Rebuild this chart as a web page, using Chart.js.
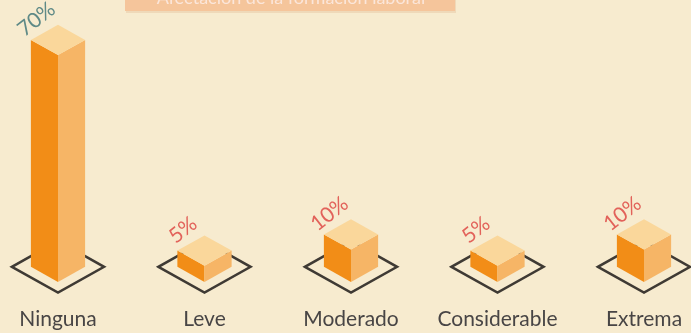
<!DOCTYPE html>
<html>
<head>
<meta charset="utf-8">
<script src="https://cdn.jsdelivr.net/npm/chart.js@4.4.1/dist/chart.umd.min.js"></script>
<style>
  html, body { margin: 0; padding: 0; background: #f7ebcf; }
  #wrap { width: 691px; height: 333px; }
</style>
</head>
<body>
<div id="wrap"><canvas id="myChart" width="691" height="333"></canvas></div>
<script>
const categories = ["Ninguna", "Leve", "Moderado", "Considerable", "Extrema"];
const percentages = [70, 5, 10, 5, 10];
const chartTitle = "Afectación de la formación laboral";

const labelColors = ["#5f8a87", "#e2625a", "#e2625a", "#e2625a", "#e2625a"];
const ISO = 0.56; // vertical squash of the isometric faces

const isoBars = {
    id: "isoBars",
    beforeDraw(chart) {
        const ctx = chart.ctx;
        ctx.save();
        ctx.fillStyle = "#f7ebcf";
        ctx.fillRect(0, 0, chart.width, chart.height);

        // title strip, partly cut at the top edge
        ctx.fillStyle = "#efd9b9";
        ctx.fillRect(126, 0, 330, 13);
        ctx.fillStyle = "#f5c59b";
        ctx.fillRect(125, 0, 330, 11);
        ctx.fillStyle = "#fbe6da";
        ctx.font = "18px Lato";
        ctx.textAlign = "center";
        ctx.textBaseline = "alphabetic";
        ctx.fillText(chartTitle, 291, 4);
        ctx.restore();
    },
    afterDatasetsDraw(chart) {
        const ctx = chart.ctx;
        const meta = chart.getDatasetMeta(0);
        ctx.save();
        meta.data.forEach((bar, i) => {
            const x = bar.x, top = bar.y, base = bar.base;
            const w = bar.width / 2;
            const d = w * ISO;

            // floor diamond under each box
            const fw = w * 1.7, fd = fw * ISO, cy = base - d;
            ctx.beginPath();
            ctx.moveTo(x - fw, cy);
            ctx.lineTo(x, cy + fd);
            ctx.lineTo(x + fw, cy);
            ctx.lineTo(x, cy - fd);
            ctx.closePath();
            ctx.lineWidth = 2.5;
            ctx.lineJoin = "miter";
            ctx.strokeStyle = "#3f3a34";
            ctx.stroke();

            // left face
            ctx.beginPath();
            ctx.moveTo(x - w, top - d);
            ctx.lineTo(x, top);
            ctx.lineTo(x, base);
            ctx.lineTo(x - w, base - d);
            ctx.closePath();
            ctx.fillStyle = "#f28d17";
            ctx.fill();

            // right face
            ctx.beginPath();
            ctx.moveTo(x + w, top - d);
            ctx.lineTo(x, top);
            ctx.lineTo(x, base);
            ctx.lineTo(x + w, base - d);
            ctx.closePath();
            ctx.fillStyle = "#f6b566";
            ctx.fill();

            // top face
            ctx.beginPath();
            ctx.moveTo(x - w, top - d);
            ctx.lineTo(x, top);
            ctx.lineTo(x + w, top - d);
            ctx.lineTo(x, top - 2 * d);
            ctx.closePath();
            ctx.fillStyle = "#fad79b";
            ctx.fill();

            // value label along the upper left edge
            ctx.save();
            ctx.translate(x - w / 2 - 8, top - 1.5 * d - 13);
            ctx.rotate(-38 * Math.PI / 180);
            ctx.font = "21px Lato";
            ctx.textAlign = "center";
            ctx.textBaseline = "middle";
            ctx.fillStyle = labelColors[i];
            ctx.fillText(percentages[i] + "%", 0, 0);
            ctx.restore();

            // category name
            ctx.font = "21px Lato";
            ctx.textAlign = "center";
            ctx.textBaseline = "middle";
            ctx.fillStyle = "#484545";
            ctx.fillText(categories[i], x, 319);
        });
        ctx.restore();
    }
};

const ctx = document.getElementById("myChart").getContext("2d");
const myChart = new Chart(ctx, {
    type: "bar",
    data: {
        labels: categories,
        datasets: [{
            data: percentages,
            backgroundColor: "rgba(0,0,0,0)",
            borderWidth: 0,
            barPercentage: 0.37,
            categoryPercentage: 1
        }]
    },
    options: {
        responsive: false,
        animation: false,
        layout: {
            padding: { left: 58, right: 47, top: 0, bottom: 51 }
        },
        plugins: {
            legend: { display: false },
            tooltip: { enabled: false }
        },
        scales: {
            x: { display: false, offset: false },
            y: { display: false, min: 0, max: 87 }
        }
    },
    plugins: [isoBars]
});
</script>
</body>
</html>
